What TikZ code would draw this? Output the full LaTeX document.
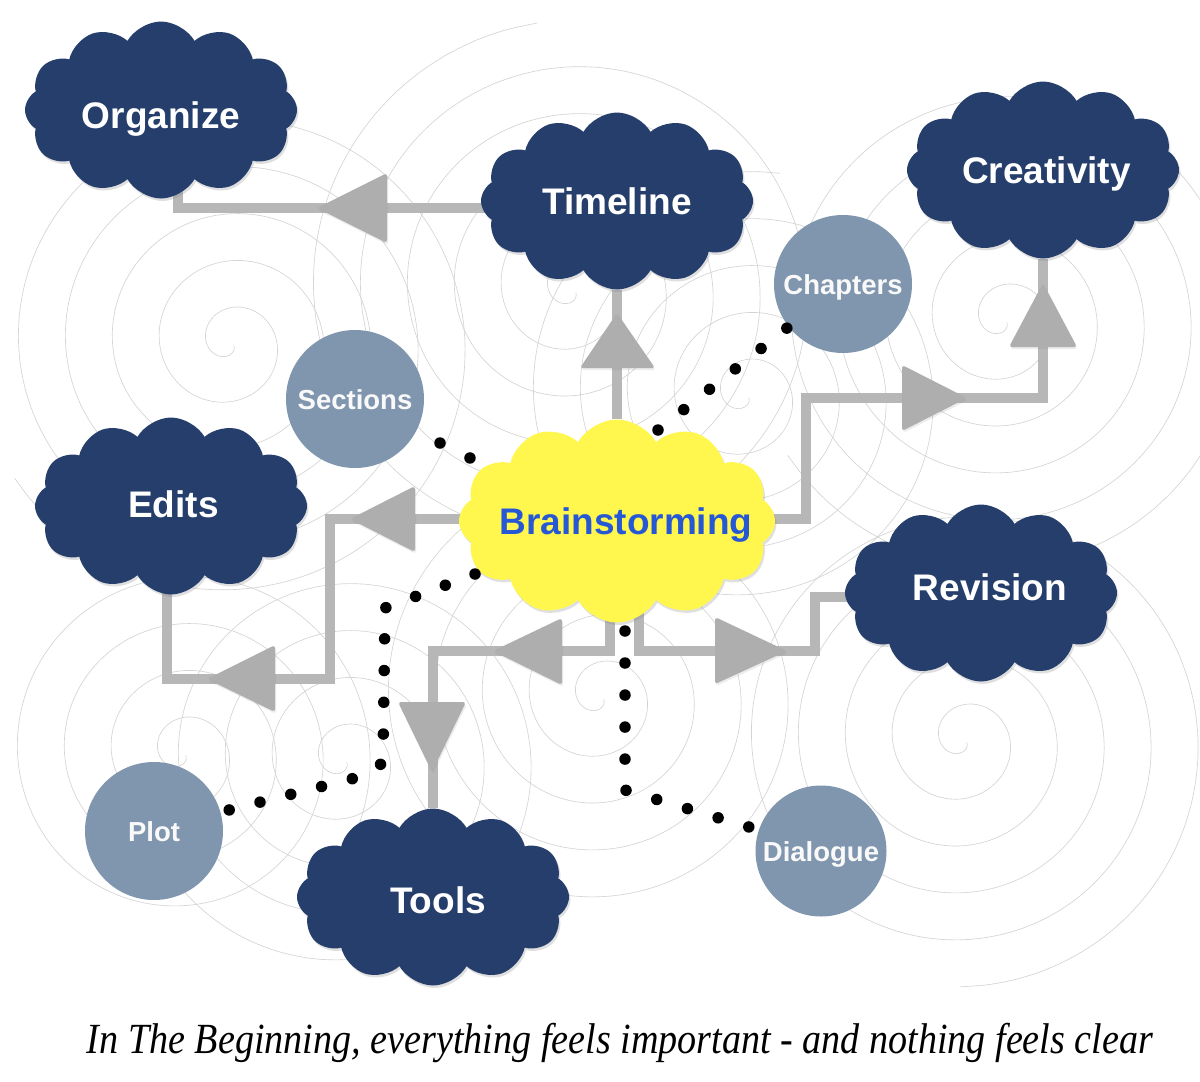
\documentclass[tikz,border=0pt]{standalone}
\usepackage{fontspec}
\setmainfont{Liberation Sans}
\newfontfamily\capfont{Liberation Serif}
\usetikzlibrary{shapes.symbols,shadows,calc}
\definecolor{navy}{RGB}{37,62,108}
\definecolor{sunny}{RGB}{255,247,77}
\definecolor{brainblue}{RGB}{38,88,214}
\definecolor{circ}{RGB}{128,150,174}
\definecolor{lineg}{RGB}{183,183,183}
\definecolor{trig}{RGB}{174,174,174}
\definecolor{spir}{RGB}{212,212,212}
\pgfdeclarelayer{spirals}
\pgfdeclarelayer{links}
\pgfsetlayers{spirals,links,main}
\tikzset{
  cloudbase/.style={cloud, cloud puffs=12, cloud puff arc=120, cloud ignores aspect,
    inner sep=0pt, text height=27pt, text depth=0pt,
    drop shadow={opacity=0.25, shadow xshift=1.5pt, shadow yshift=-2.5pt}},
  darkcloud/.style={cloudbase, minimum width=272pt, minimum height=177pt, fill=navy, text=white,
    font=\bfseries\fontsize{37}{40}\selectfont},
  yellowcloud/.style={cloudbase, minimum width=316pt, minimum height=203pt, fill=sunny, text=brainblue,
    font=\bfseries\fontsize{37}{40}\selectfont},
  topic/.style={circle, fill=circ, minimum size=138pt, inner sep=0pt, text=white!95!gray,
    text height=20pt, text depth=0pt, font=\bfseries\fontsize{27.5}{30}\selectfont},
  conn/.style={draw=lineg, line width=10pt},
  tri/.style={fill=trig, rounded corners=3pt,
    drop shadow={opacity=0.15, shadow xshift=1pt, shadow yshift=-2pt}},
  dotline/.style={line width=11.5pt, line cap=round, dash pattern=on 0pt off #1},
  spiral/.style={draw=spir, line width=0.65pt}
}
\begin{document}
\begin{tikzpicture}[x=1pt,y=-1pt]
\useasboundingbox (0,0) rectangle (1200,1082);

% background spirals
\begin{pgfonlayer}{spirals}
\fill[white] (0,0) rectangle (1200,1082);
\begin{scope}
\clip (0,0) rectangle (1200,995);
\foreach \cx/\cy/\tmax in {230/343/34, 572/290/36, 1003/320/34, 182/753/26, 343/760/28, 600/697/30, 963/740/33, 745/395/30}{
  \draw[spiral] plot[domain=0.6:\tmax, samples=300, smooth, variable=\t]
    ({\cx+7.48*\t*cos(\t r)},{\cy+7.48*\t*sin(\t r)});
}
\end{scope}
\end{pgfonlayer}

% nodes
\node[darkcloud] (organize) at (161,110) {\makebox[0pt]{\raisebox{-5pt}{Organize}}};
\node[darkcloud] (timeline) at (617,201) {\makebox[0pt]{Timeline}};
\node[darkcloud] (creativity) at (1043,170) {\makebox[0pt]{\hspace*{7pt}Creativity}};
\node[darkcloud] (edits) at (171,506) {\makebox[0pt]{\hspace*{5pt}\raisebox{2pt}{Edits}}};
\node[darkcloud] (revision) at (981,593) {\makebox[0pt]{\hspace*{18pt}\raisebox{6pt}{Revision}}};
\node[darkcloud] (tools) at (433,897) {\makebox[0pt]{\hspace*{10pt}\raisebox{-3pt}{Tools}}};
\node[yellowcloud] (brain) at (617,521) {\makebox[0pt]{\hspace*{18pt}Brainstorming}};
\node[topic] (chapters) at (843,284) {Chapters};
\node[topic] (sections) at (355,399) {Sections};
\node[topic] (plot) at (154,831) {Plot};
\node[topic, minimum size=131pt] (dialogue) at (821,851) {Dialogue};

% connectors behind the nodes
\begin{pgfonlayer}{links}
\draw[conn] ($(timeline)+(0,7)$) -| ($(organize)+(17,0)$);
\fill[tri] (317,208) -- (387,173) -- (387,243) -- cycle;

\draw[conn] (brain) -- (timeline);
\fill[tri] (617,313) -- (655,368) -- (580,368) -- cycle;

\draw[conn] ($(brain)+(0,-2)$) -| (806,398) -| (creativity);
\fill[tri] (967,398) -- (902,365) -- (902,431) -- cycle;
\fill[tri] (1043,283) -- (1077,347) -- (1009,347) -- cycle;

\draw[conn] ($(brain)+(0,-2)$) -| (330,679) -| ($(edits)+(-4,0)$);
\fill[tri] (350,519) -- (415,486) -- (415,552) -- cycle;
\fill[tri] (207,679) -- (275,645) -- (275,712) -- cycle;

\draw[conn] ($(brain)+(-7,0)$) |- (433,651) -- (tools);
\fill[tri] (493,651) -- (562,618) -- (562,685) -- cycle;
\fill[tri] (432,772) -- (398,702) -- (466,702) -- cycle;

\draw[conn] ($(brain)+(22,0)$) |- (815,651) |- ($(revision)+(0,4)$);
\fill[tri] (787,651) -- (715,617) -- (715,684) -- cycle;
\end{pgfonlayer}

% dotted links
\coordinate (d1a) at (658,430); \coordinate (d1b) at (787,328);
\coordinate (d2a) at (440,443); \coordinate (d2b) at (470,458);
\coordinate (d3a) at (475,574); \coordinate (d3b) at (229,810);
\coordinate (d4a) at (625,631); \coordinate (d4b) at (749,827);
\draw[dotline=32.85pt] (d1a) -- (d1b);
\draw[dotline=33.5pt] (d2a) -- (d2b);
\draw[dotline=31.75pt] (d3a) -- (385,608) -- (383,763) -- (355,778) -- (d3b);
\draw[dotline=32.02pt] (d4a) -- (625,790) -- (d4b);

% caption
\node[anchor=base, inner sep=0pt] (caption) at (620,1053)
  {\resizebox{1066pt}{\height}{\capfont\itshape\fontsize{43}{43}\selectfont In The Beginning, everything feels important - and nothing feels clear}};
\end{tikzpicture}
\end{document}
